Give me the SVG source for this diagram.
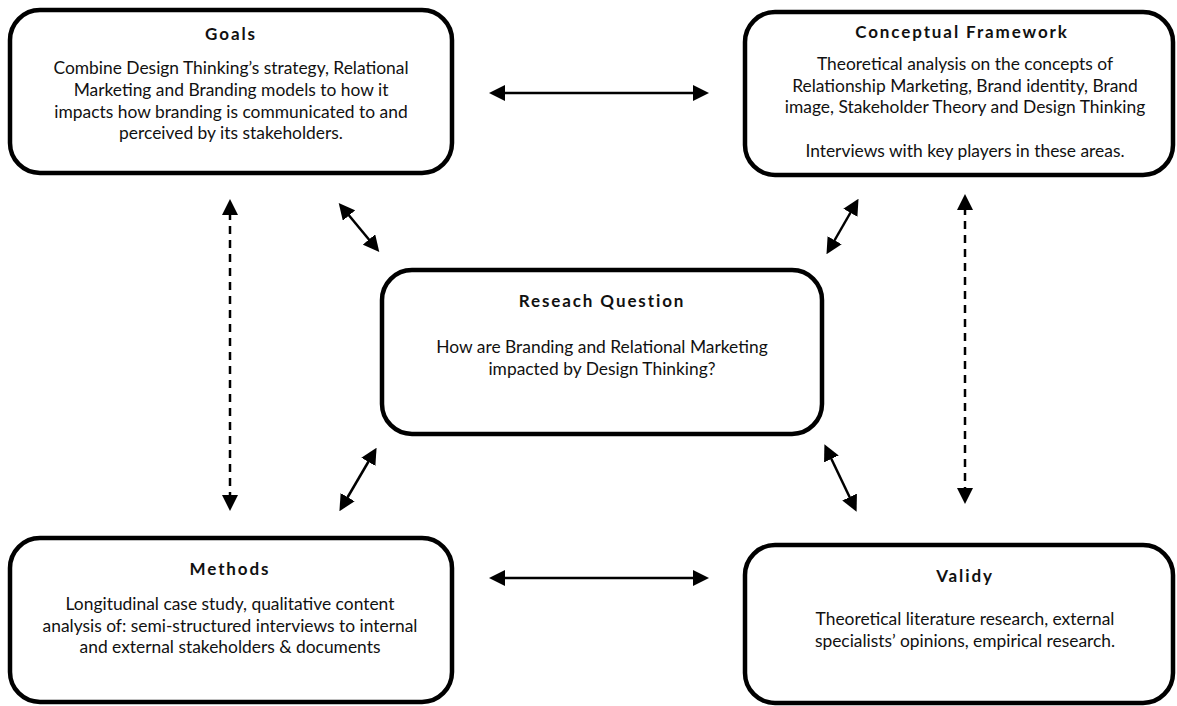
<svg xmlns="http://www.w3.org/2000/svg" width="1177" height="706" viewBox="0 0 1177 706">
  <style>
    .box { fill: #ffffff; stroke: #000000; stroke-width: 4.5; }
    .title { font-family: Lato, "Open Sans", sans-serif; font-weight: bold; font-size: 17px; letter-spacing: 1.9px; text-anchor: middle; fill: #111; }
    .body { font-family: Lato, "Open Sans", sans-serif; font-size: 17.4px; text-anchor: middle; fill: #111; }
    .link { stroke: #000; stroke-width: 2.5; fill: none; marker-start: url(#head); marker-end: url(#head); }
    .dash { stroke-dasharray: 8 6; }
  </style>
  <defs>
    <marker id="head" viewBox="0 0 10 10" refX="2" refY="5" markerWidth="6.5" markerHeight="6.5" orient="auto-start-reverse" markerUnits="strokeWidth">
      <path d="M0,0 L10,5 L0,10 z" fill="#000"/>
    </marker>
  </defs>
  <rect width="1177" height="706" fill="#ffffff"/>

  <g id="connectors">
    <line class="link" x1="502" y1="93" x2="696" y2="93"/>
    <line class="link" x1="502" y1="578" x2="696" y2="578"/>
    <line class="link dash" x1="230" y1="212" x2="230" y2="498"/>
    <line class="link dash" x1="965" y1="207" x2="965" y2="491"/>
    <line class="link" x1="347" y1="213" x2="371" y2="242"/>
    <line class="link" x1="370" y1="459" x2="346" y2="500"/>
    <line class="link" x1="852" y1="210" x2="833" y2="243"/>
    <line class="link" x1="830" y1="456" x2="851" y2="500"/>
  </g>

  <g id="goals">
    <rect class="box" x="10" y="10" width="442" height="163" rx="30"/>
    <text class="title" x="231" y="40">Goals</text>
    <text class="body" x="231" y="74">Combine Design Thinking’s strategy, Relational</text>
    <text class="body" x="231" y="96">Marketing and Branding models to how it</text>
    <text class="body" x="231" y="118">impacts how branding is communicated to and</text>
    <text class="body" x="231" y="139">perceived by its stakeholders.</text>
  </g>

  <g id="conceptual-framework">
    <rect class="box" x="745" y="12" width="428" height="163" rx="30"/>
    <text class="title" x="962" y="38">Conceptual Framework</text>
    <text class="body" x="965" y="70">Theoretical analysis on the concepts of</text>
    <text class="body" x="965" y="92">Relationship Marketing, Brand identity, Brand</text>
    <text class="body" x="965" y="113">image, Stakeholder Theory and Design Thinking</text>
    <text class="body" x="965" y="157">Interviews with key players in these areas.</text>
  </g>

  <g id="research-question">
    <rect class="box" x="382" y="270" width="440" height="164" rx="30"/>
    <text class="title" x="602" y="307">Reseach Question</text>
    <text class="body" x="602" y="353">How are Branding and Relational Marketing</text>
    <text class="body" x="602" y="375">impacted by Design Thinking?</text>
  </g>

  <g id="methods">
    <rect class="box" x="10" y="538" width="442" height="164" rx="30"/>
    <text class="title" x="230" y="575">Methods</text>
    <text class="body" x="230" y="610">Longitudinal case study, qualitative content</text>
    <text class="body" x="230" y="632">analysis of: semi-structured interviews to internal</text>
    <text class="body" x="230" y="653">and external stakeholders &amp; documents</text>
  </g>

  <g id="validity">
    <rect class="box" x="745" y="545" width="428" height="158" rx="30"/>
    <text class="title" x="965" y="582">Validy</text>
    <text class="body" x="965" y="625">Theoretical literature research, external</text>
    <text class="body" x="965" y="647">specialists’ opinions, empirical research.</text>
  </g>
</svg>
